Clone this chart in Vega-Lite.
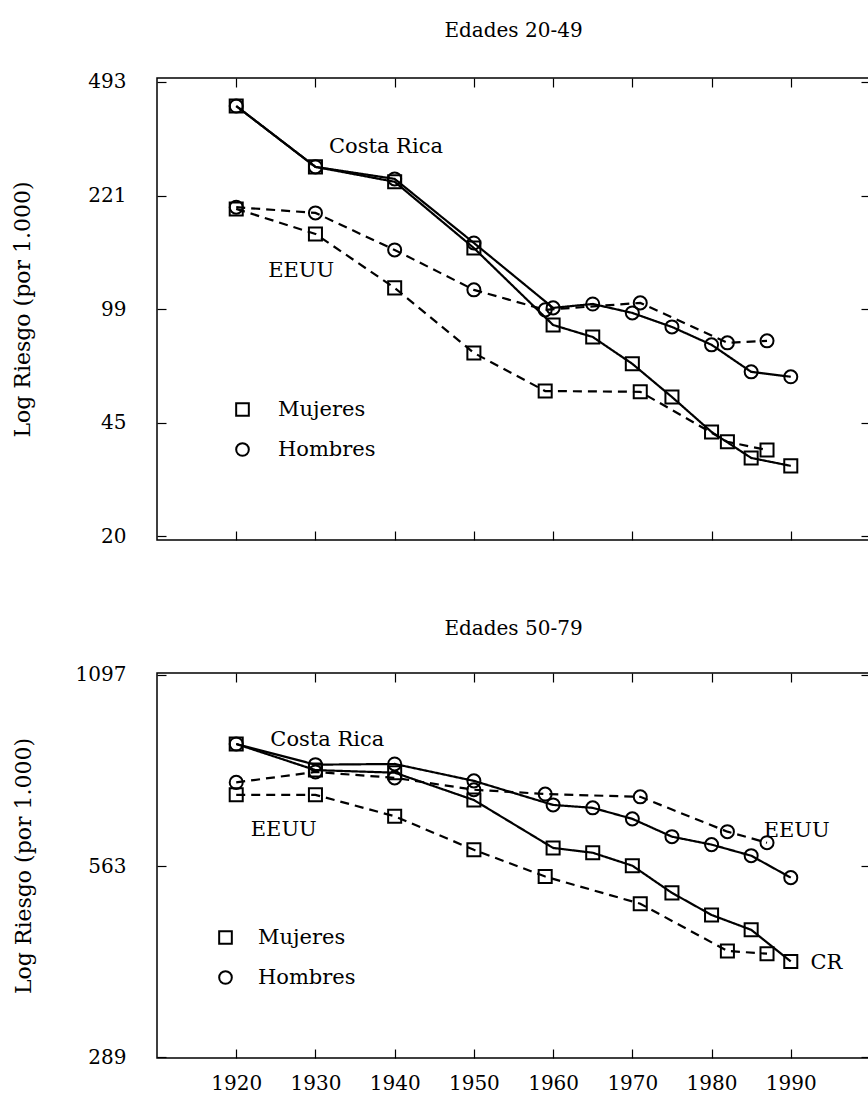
{
  "$schema": "https://vega.github.io/schema/vega-lite/v6.json",
  "background": "white",
  "padding": {"left": 11, "top": 20, "right": 0, "bottom": 0},
  "config": {
    "font": "DejaVu Serif",
    "view": {"stroke": "black", "strokeWidth": 1.5},
    "axis": {
      "domain": false, "grid": false, "tickColor": "black", "tickWidth": 1.2, "tickSize": -9,
      "labelFont": "DejaVu Serif", "labelFontSize": 20, "labelColor": "black", "labelFlush": false, "labelOverlap": false,
      "titleFont": "DejaVu Serif", "titleFontSize": 22, "titleFontWeight": "normal", "titleColor": "black"
    },
    "legend": {"padding": 0, "labelFont": "DejaVu Serif", "labelFontSize": 21, "labelColor": "black", "symbolStrokeWidth": 2, "symbolSize": 160, "symbolStrokeColor": "black", "symbolFillColor": "transparent"},
    "title": {"font": "DejaVu Serif", "fontSize": 20, "fontWeight": "normal", "color": "black", "anchor": "middle", "frame": "group", "baseline": "alphabetic"}
  },
  "datasets": {
    "p1": [
      {"anio": 1920, "riesgo": 416, "pais": "Costa Rica", "sexo": "Mujeres"},
      {"anio": 1930, "riesgo": 271, "pais": "Costa Rica", "sexo": "Mujeres"},
      {"anio": 1940, "riesgo": 244, "pais": "Costa Rica", "sexo": "Mujeres"},
      {"anio": 1950, "riesgo": 153, "pais": "Costa Rica", "sexo": "Mujeres"},
      {"anio": 1960, "riesgo": 89, "pais": "Costa Rica", "sexo": "Mujeres"},
      {"anio": 1965, "riesgo": 81.8, "pais": "Costa Rica", "sexo": "Mujeres"},
      {"anio": 1970, "riesgo": 67.7, "pais": "Costa Rica", "sexo": "Mujeres"},
      {"anio": 1975, "riesgo": 53.6, "pais": "Costa Rica", "sexo": "Mujeres"},
      {"anio": 1980, "riesgo": 41.9, "pais": "Costa Rica", "sexo": "Mujeres"},
      {"anio": 1985, "riesgo": 34.9, "pais": "Costa Rica", "sexo": "Mujeres"},
      {"anio": 1990, "riesgo": 33.0, "pais": "Costa Rica", "sexo": "Mujeres"},
      {"anio": 1920, "riesgo": 416, "pais": "Costa Rica", "sexo": "Hombres"},
      {"anio": 1930, "riesgo": 271, "pais": "Costa Rica", "sexo": "Hombres"},
      {"anio": 1940, "riesgo": 249, "pais": "Costa Rica", "sexo": "Hombres"},
      {"anio": 1950, "riesgo": 158.6, "pais": "Costa Rica", "sexo": "Hombres"},
      {"anio": 1960, "riesgo": 100.4, "pais": "Costa Rica", "sexo": "Hombres"},
      {"anio": 1965, "riesgo": 103.2, "pais": "Costa Rica", "sexo": "Hombres"},
      {"anio": 1970, "riesgo": 96.9, "pais": "Costa Rica", "sexo": "Hombres"},
      {"anio": 1975, "riesgo": 87.8, "pais": "Costa Rica", "sexo": "Hombres"},
      {"anio": 1980, "riesgo": 77.4, "pais": "Costa Rica", "sexo": "Hombres"},
      {"anio": 1985, "riesgo": 64.0, "pais": "Costa Rica", "sexo": "Hombres"},
      {"anio": 1990, "riesgo": 61.8, "pais": "Costa Rica", "sexo": "Hombres"},
      {"anio": 1920, "riesgo": 201.6, "pais": "EEUU", "sexo": "Mujeres"},
      {"anio": 1930, "riesgo": 169, "pais": "EEUU", "sexo": "Mujeres"},
      {"anio": 1940, "riesgo": 115.6, "pais": "EEUU", "sexo": "Mujeres"},
      {"anio": 1950, "riesgo": 73.1, "pais": "EEUU", "sexo": "Mujeres"},
      {"anio": 1959, "riesgo": 55.9, "pais": "EEUU", "sexo": "Mujeres"},
      {"anio": 1971, "riesgo": 55.6, "pais": "EEUU", "sexo": "Mujeres"},
      {"anio": 1982, "riesgo": 39.1, "pais": "EEUU", "sexo": "Mujeres"},
      {"anio": 1987, "riesgo": 36.9, "pais": "EEUU", "sexo": "Mujeres"},
      {"anio": 1920, "riesgo": 204, "pais": "EEUU", "sexo": "Hombres"},
      {"anio": 1930, "riesgo": 196, "pais": "EEUU", "sexo": "Hombres"},
      {"anio": 1940, "riesgo": 151, "pais": "EEUU", "sexo": "Hombres"},
      {"anio": 1950, "riesgo": 114, "pais": "EEUU", "sexo": "Hombres"},
      {"anio": 1959, "riesgo": 99, "pais": "EEUU", "sexo": "Hombres"},
      {"anio": 1971, "riesgo": 104, "pais": "EEUU", "sexo": "Hombres"},
      {"anio": 1982, "riesgo": 78.5, "pais": "EEUU", "sexo": "Hombres"},
      {"anio": 1987, "riesgo": 79.6, "pais": "EEUU", "sexo": "Hombres"}
    ],
    "p2": [
      {"anio": 1920, "riesgo": 862, "pais": "Costa Rica", "sexo": "Mujeres"},
      {"anio": 1930, "riesgo": 787, "pais": "Costa Rica", "sexo": "Mujeres"},
      {"anio": 1940, "riesgo": 780, "pais": "Costa Rica", "sexo": "Mujeres"},
      {"anio": 1950, "riesgo": 709, "pais": "Costa Rica", "sexo": "Mujeres"},
      {"anio": 1960, "riesgo": 600, "pais": "Costa Rica", "sexo": "Mujeres"},
      {"anio": 1965, "riesgo": 590, "pais": "Costa Rica", "sexo": "Mujeres"},
      {"anio": 1970, "riesgo": 564, "pais": "Costa Rica", "sexo": "Mujeres"},
      {"anio": 1975, "riesgo": 513, "pais": "Costa Rica", "sexo": "Mujeres"},
      {"anio": 1980, "riesgo": 475, "pais": "Costa Rica", "sexo": "Mujeres"},
      {"anio": 1985, "riesgo": 451, "pais": "Costa Rica", "sexo": "Mujeres"},
      {"anio": 1990, "riesgo": 404, "pais": "Costa Rica", "sexo": "Mujeres"},
      {"anio": 1920, "riesgo": 862, "pais": "Costa Rica", "sexo": "Hombres"},
      {"anio": 1930, "riesgo": 802, "pais": "Costa Rica", "sexo": "Hombres"},
      {"anio": 1940, "riesgo": 804, "pais": "Costa Rica", "sexo": "Hombres"},
      {"anio": 1950, "riesgo": 758, "pais": "Costa Rica", "sexo": "Hombres"},
      {"anio": 1960, "riesgo": 697, "pais": "Costa Rica", "sexo": "Hombres"},
      {"anio": 1965, "riesgo": 690, "pais": "Costa Rica", "sexo": "Hombres"},
      {"anio": 1970, "riesgo": 664, "pais": "Costa Rica", "sexo": "Hombres"},
      {"anio": 1975, "riesgo": 624, "pais": "Costa Rica", "sexo": "Hombres"},
      {"anio": 1980, "riesgo": 607, "pais": "Costa Rica", "sexo": "Hombres"},
      {"anio": 1985, "riesgo": 584, "pais": "Costa Rica", "sexo": "Hombres"},
      {"anio": 1990, "riesgo": 541, "pais": "Costa Rica", "sexo": "Hombres"},
      {"anio": 1920, "riesgo": 722, "pais": "EEUU", "sexo": "Mujeres"},
      {"anio": 1930, "riesgo": 722, "pais": "EEUU", "sexo": "Mujeres"},
      {"anio": 1940, "riesgo": 670, "pais": "EEUU", "sexo": "Mujeres"},
      {"anio": 1950, "riesgo": 596, "pais": "EEUU", "sexo": "Mujeres"},
      {"anio": 1959, "riesgo": 543, "pais": "EEUU", "sexo": "Mujeres"},
      {"anio": 1971, "riesgo": 494, "pais": "EEUU", "sexo": "Mujeres"},
      {"anio": 1982, "riesgo": 419, "pais": "EEUU", "sexo": "Mujeres"},
      {"anio": 1987, "riesgo": 415, "pais": "EEUU", "sexo": "Mujeres"},
      {"anio": 1920, "riesgo": 754, "pais": "EEUU", "sexo": "Hombres"},
      {"anio": 1930, "riesgo": 782, "pais": "EEUU", "sexo": "Hombres"},
      {"anio": 1940, "riesgo": 766, "pais": "EEUU", "sexo": "Hombres"},
      {"anio": 1950, "riesgo": 735, "pais": "EEUU", "sexo": "Hombres"},
      {"anio": 1959, "riesgo": 724, "pais": "EEUU", "sexo": "Hombres"},
      {"anio": 1971, "riesgo": 717, "pais": "EEUU", "sexo": "Hombres"},
      {"anio": 1982, "riesgo": 635, "pais": "EEUU", "sexo": "Hombres"},
      {"anio": 1987, "riesgo": 611, "pais": "EEUU", "sexo": "Hombres"}
    ],
    "a1": [
      {"anio": 1938.9, "riesgo": 312, "texto": "Costa Rica"},
      {"anio": 1928.2, "riesgo": 130.3, "texto": "EEUU"}
    ],
    "a2": [
      {"anio": 1931.5, "riesgo": 874, "texto": "Costa Rica"},
      {"anio": 1926.0, "riesgo": 639, "texto": "EEUU"},
      {"anio": 1990.75, "riesgo": 637, "texto": "EEUU"},
      {"anio": 1994.5, "riesgo": 402, "texto": "CR"}
    ]
  },
  "spacing": 70,
  "resolve": {
    "scale": {"x": "independent", "y": "independent", "shape": "independent", "strokeDash": "independent"},
    "legend": {"shape": "independent"}
  },
  "vconcat": [
    {
      "title": {"text": "Edades 20-49", "offset": 31},
      "width": 713,
      "height": 462,
      "data": {"name": "p1"},
      "resolve": {"axis": {"x": "independent", "y": "independent"}},
      "layer": [
        {
          "mark": {"type": "line", "color": "black", "strokeWidth": 2.2},
          "encoding": {
            "x": {"field": "anio", "type": "quantitative", "scale": {"domain": [1910, 2000], "nice": false, "zero": false},
                  "axis": {"orient": "bottom", "values": [1920, 1930, 1940, 1950, 1960, 1970, 1980, 1990], "labels": false, "title": null}},
            "y": {"field": "riesgo", "type": "quantitative", "scale": {"type": "log", "domain": [19.58, 506.8], "nice": false},
                  "axis": {"orient": "left", "values": [20.09, 44.7, 99.48, 221.41, 492.75], "format": ".0f", "title": "Log Riesgo (por 1.000)", "labelPadding": 40, "titlePadding": 53}},
            "detail": {"field": "sexo", "type": "nominal"},
            "strokeDash": {"field": "pais", "type": "nominal", "scale": {"domain": ["Costa Rica", "EEUU"], "range": [[1, 0], [9, 6]]}, "legend": null}
          }
        },
        {
          "mark": {"type": "point", "filled": false, "color": "black", "strokeWidth": 2, "size": 170, "opacity": 1},
          "encoding": {
            "x": {"field": "anio", "type": "quantitative", "axis": null},
            "y": {"field": "riesgo", "type": "quantitative", "axis": null},
            "shape": {"field": "sexo", "type": "nominal", "scale": {"domain": ["Mujeres", "Hombres"], "range": ["square", "circle"]},
                      "legend": {"title": null, "orient": "none", "legendX": 75, "legendY": 321, "rowPadding": 18, "labelOffset": 25}}
          }
        },
        {
          "data": {"name": "a1"},
          "mark": {"type": "text", "font": "DejaVu Serif", "fontSize": 21, "color": "black", "align": "center", "baseline": "middle"},
          "encoding": {
            "x": {"field": "anio", "type": "quantitative", "axis": null},
            "y": {"field": "riesgo", "type": "quantitative", "axis": null},
            "text": {"field": "texto"}
          }
        },
        {
          "mark": {"type": "point", "opacity": 0},
          "encoding": {
            "x": {"field": "anio", "type": "quantitative", "axis": {"orient": "top", "values": [1920, 1930, 1940, 1950, 1960, 1970, 1980, 1990], "labels": false, "title": null}},
            "y": {"field": "riesgo", "type": "quantitative", "axis": {"orient": "right", "values": [20.09, 44.7, 99.48, 221.41, 492.75], "labels": false, "title": null}}
          }
        }
      ]
    },
    {
      "title": {"text": "Edades 50-79", "offset": 26},
      "width": 713,
      "height": 385,
      "data": {"name": "p2"},
      "resolve": {"axis": {"x": "independent", "y": "independent"}},
      "layer": [
        {
          "mark": {"type": "line", "color": "black", "strokeWidth": 2.2},
          "encoding": {
            "x": {"field": "anio", "type": "quantitative", "scale": {"domain": [1910, 2000], "nice": false, "zero": false},
                  "axis": {"orient": "bottom", "values": [1920, 1930, 1940, 1950, 1960, 1970, 1980, 1990], "format": "d", "title": null, "labelPadding": 24}},
            "y": {"field": "riesgo", "type": "quantitative", "scale": {"type": "log", "domain": [288.5, 1104], "nice": false},
                  "axis": {"orient": "left", "values": [289.1, 563.0, 1096.6], "format": ".0f", "title": "Log Riesgo (por 1.000)", "labelPadding": 40, "titlePadding": 40}},
            "detail": {"field": "sexo", "type": "nominal"},
            "strokeDash": {"field": "pais", "type": "nominal", "scale": {"domain": ["Costa Rica", "EEUU"], "range": [[1, 0], [9, 6]]}, "legend": null}
          }
        },
        {
          "mark": {"type": "point", "filled": false, "color": "black", "strokeWidth": 2, "size": 170, "opacity": 1},
          "encoding": {
            "x": {"field": "anio", "type": "quantitative", "axis": null},
            "y": {"field": "riesgo", "type": "quantitative", "axis": null},
            "shape": {"field": "sexo", "type": "nominal", "scale": {"domain": ["Mujeres", "Hombres"], "range": ["square", "circle"]},
                      "legend": {"title": null, "orient": "none", "legendX": 58, "legendY": 254, "rowPadding": 18, "labelOffset": 22}}
          }
        },
        {
          "data": {"name": "a2"},
          "mark": {"type": "text", "font": "DejaVu Serif", "fontSize": 21, "color": "black", "align": "center", "baseline": "middle"},
          "encoding": {
            "x": {"field": "anio", "type": "quantitative", "axis": null},
            "y": {"field": "riesgo", "type": "quantitative", "axis": null},
            "text": {"field": "texto"}
          }
        },
        {
          "mark": {"type": "point", "opacity": 0},
          "encoding": {
            "x": {"field": "anio", "type": "quantitative", "axis": {"orient": "top", "values": [1920, 1930, 1940, 1950, 1960, 1970, 1980, 1990], "labels": false, "title": null}},
            "y": {"field": "riesgo", "type": "quantitative", "axis": {"orient": "right", "values": [289.1, 563.0, 1096.6], "labels": false, "title": null}}
          }
        }
      ]
    }
  ]
}
